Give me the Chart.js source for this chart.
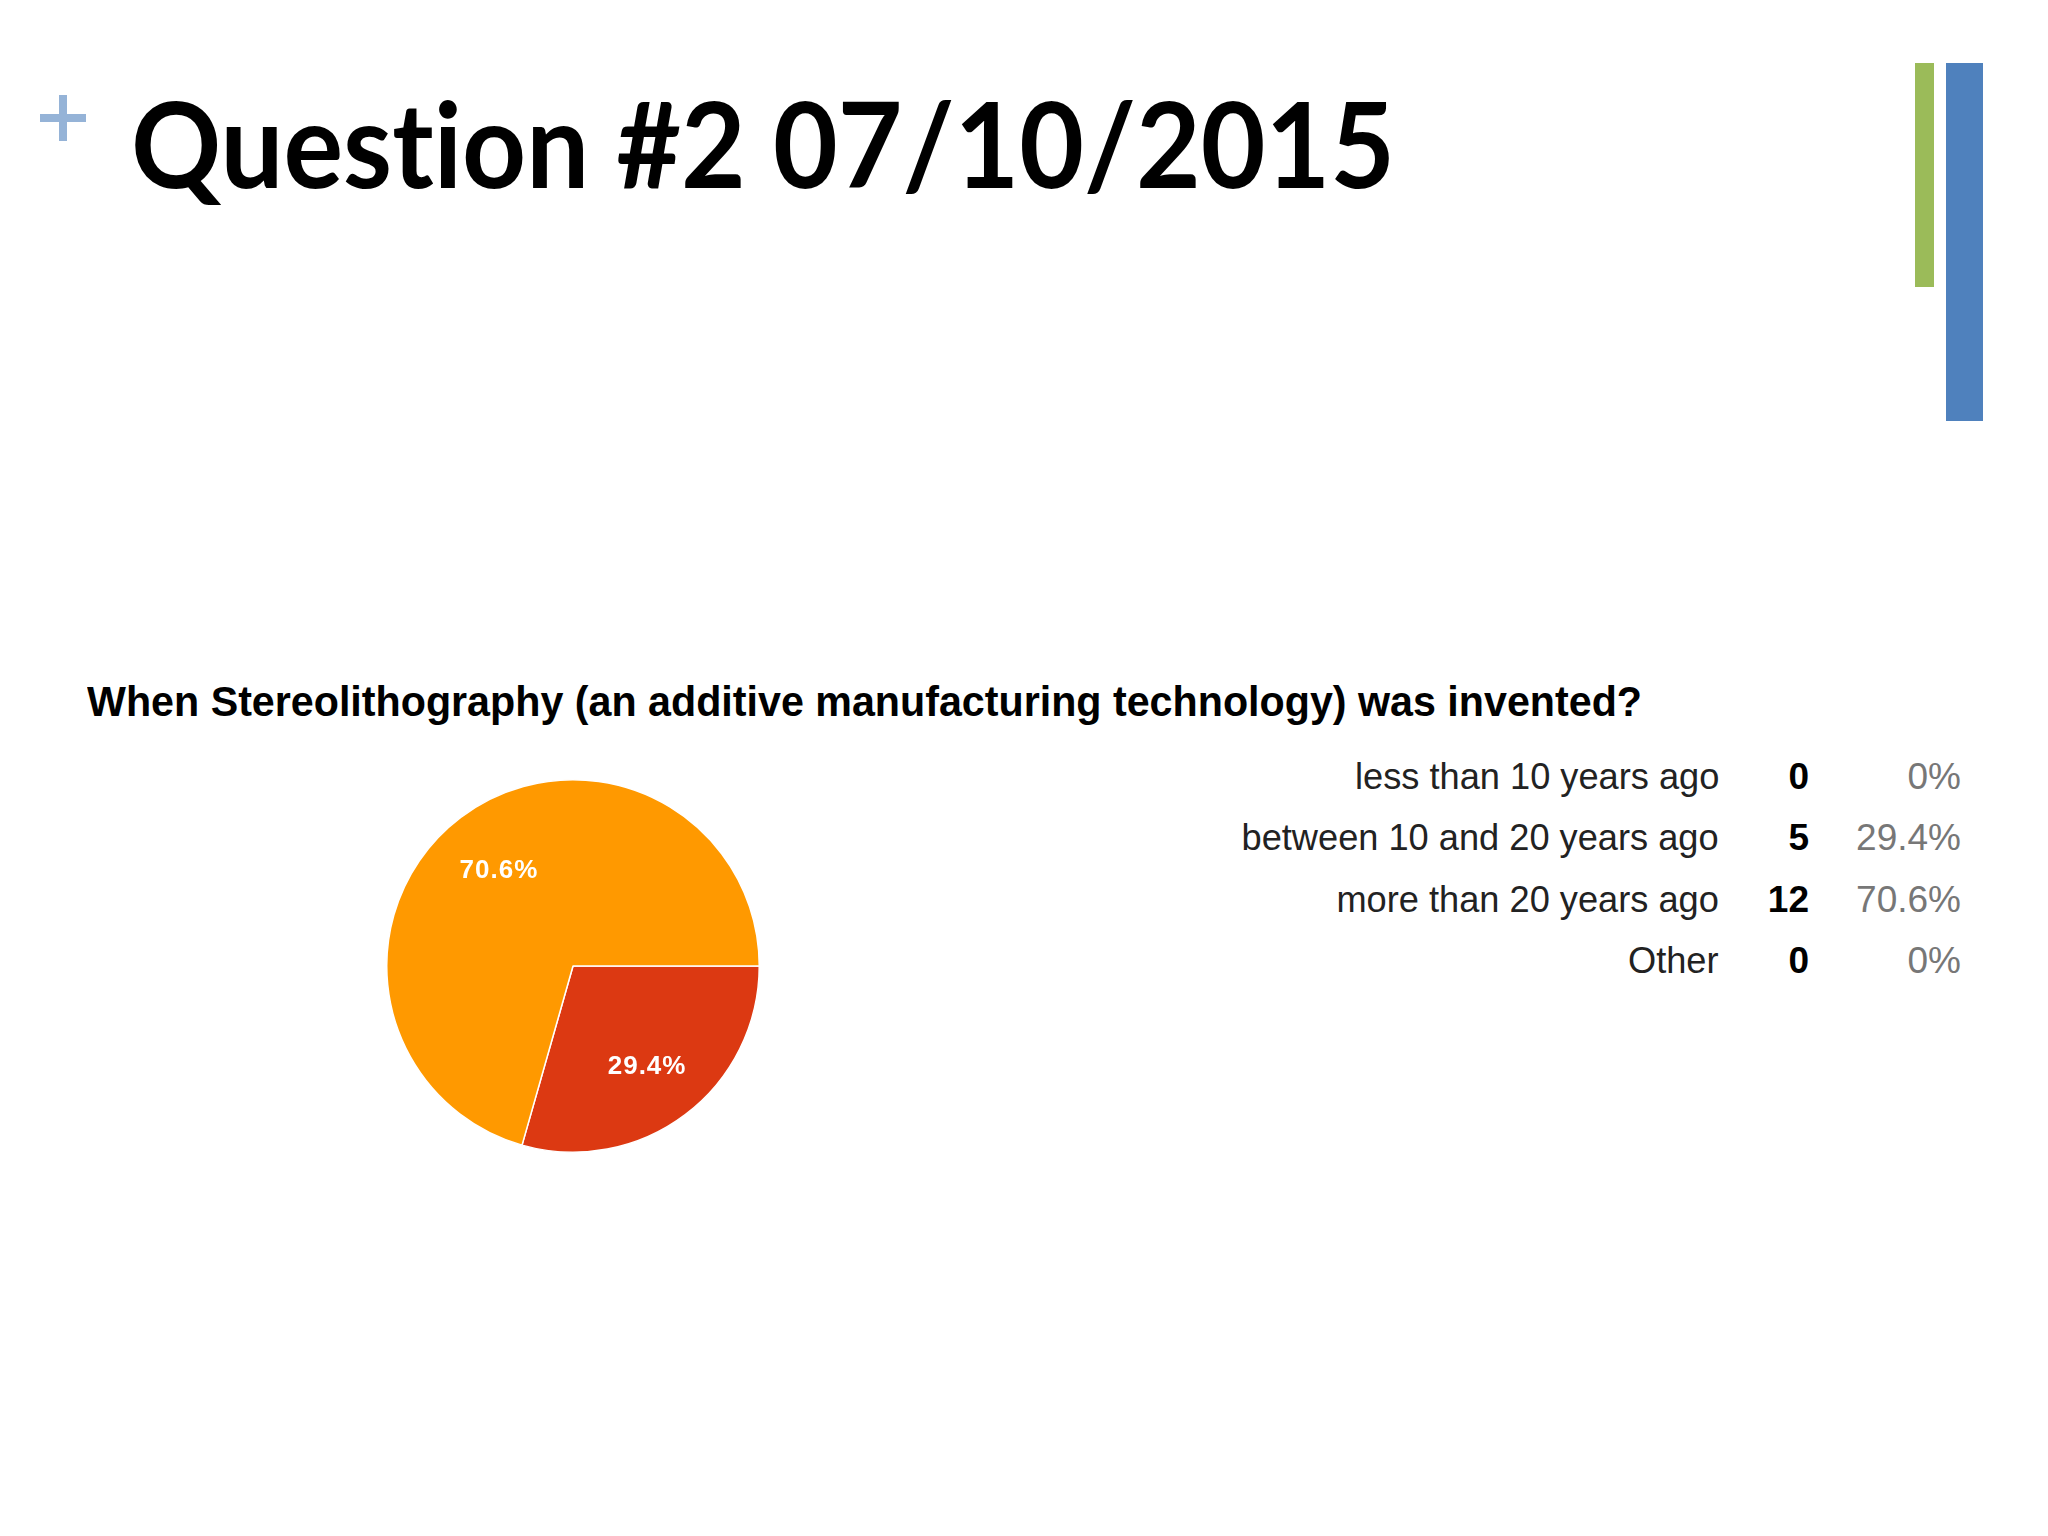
<!DOCTYPE html>
<html>
<head>
<meta charset="utf-8">
<script src="https://cdn.jsdelivr.net/npm/chart.js@4"></script>
<style>
  html, body { margin: 0; padding: 0; background: #fff; }
  body { width: 2048px; height: 1536px; position: relative; overflow: hidden; }
  .abs { position: absolute; white-space: nowrap; }
  #title { left: 131px; top: 84px; font: bold 118px Lato, sans-serif; line-height: 1; color: #000; transform-origin: left top; font-variant-ligatures: none; }
  #sub { left: 87px; top: 681px; font: bold 42px "Liberation Sans", Arial, sans-serif; line-height: 1; color: #000; transform-origin: left top; }
  .lbl { font: 37px "Liberation Sans", Arial, sans-serif; line-height: 1; color: #222; transform-origin: right top; }
  .cnt { font: bold 37px "Liberation Sans", Arial, sans-serif; line-height: 1; color: #000; }
  .pct { font: 37px "Liberation Sans", Arial, sans-serif; line-height: 1; color: #777; }
  #pie { position: absolute; left: 384px; top: 777px; }
</style>
</head>
<body>
<div class="abs" style="left:40px;top:114px;width:46px;height:8px;background:#95B3D7"></div>
<div class="abs" style="left:59px;top:95px;width:8px;height:46px;background:#95B3D7"></div>
<div class="abs" style="left:1915px;top:63px;width:19px;height:224px;background:#9BBB59"></div>
<div class="abs" style="left:1946px;top:63px;width:37px;height:358px;background:#4F81BD"></div>

<div id="title" class="abs">Question #2 07/10/2015</div>
<div id="sub" class="abs">When Stereolithography (an additive manufacturing technology) was invented?</div>
<div id="table"></div>
<canvas id="pie" width="378" height="378"></canvas>

<script>
const categories = ['less than 10 years ago', 'between 10 and 20 years ago', 'more than 20 years ago', 'Other'];
const counts = [0, 5, 12, 0];
const percentLabels = ['0%', '29.4%', '70.6%', '0%'];
const sliceColors = ['#3366CC', '#DC3912', '#FF9900', '#109618'];

// squeeze a line of text to the width it has in the picture
function fitWidth(el, target) {
    const w = el.getBoundingClientRect().width;
    el.style.transform = 'scaleX(' + (target / w) + ')';
}
fitWidth(document.getElementById('title'), 1264);
fitWidth(document.getElementById('sub'), 1555);

// the answer table on the right
const table = document.getElementById('table');
const rowCenters = [776, 837, 899, 960];
const labelEls = [];
categories.forEach((cat, i) => {
    const top = rowCenters[i] - 18;
    const l = document.createElement('div');
    l.className = 'abs lbl';
    l.textContent = cat;
    l.style.right = (2048 - 1719) + 'px';
    l.style.top = top + 'px';
    table.appendChild(l);
    labelEls.push(l);

    const c = document.createElement('div');
    c.className = 'abs cnt';
    c.textContent = counts[i];
    c.style.right = (2048 - 1809) + 'px';
    c.style.top = top + 'px';
    table.appendChild(c);

    const p = document.createElement('div');
    p.className = 'abs pct';
    p.textContent = percentLabels[i];
    p.style.right = (2048 - 1961) + 'px';
    p.style.top = top + 'px';
    table.appendChild(p);
});
const sx = 477 / labelEls[1].getBoundingClientRect().width;
labelEls.forEach(el => el.style.transform = 'scaleX(' + sx + ')');

// percentage text inside the slices
const sliceLabels = {
    id: 'sliceLabels',
    afterDatasetsDraw(chart) {
        const ctx = chart.ctx;
        const data = chart.data.datasets[0].data;
        const total = data.reduce((a, b) => a + b, 0);
        ctx.save();
        ctx.fillStyle = '#fff';
        ctx.font = 'bold 26px "Liberation Sans", Arial, sans-serif';
        ctx.letterSpacing = '1px';
        ctx.textAlign = 'center';
        ctx.textBaseline = 'middle';
        chart.getDatasetMeta(0).data.forEach((arc, i) => {
            if (!data[i]) return;
            const mid = (arc.startAngle + arc.endAngle) / 2;
            const r = arc.outerRadius * 0.66;
            ctx.fillText((data[i] / total * 100).toFixed(1) + '%', arc.x + Math.cos(mid) * r, arc.y + Math.sin(mid) * r + 3);
        });
        ctx.restore();
    }
};

new Chart(document.getElementById('pie'), {
    type: 'pie',
    data: {
        labels: categories,
        datasets: [{
            data: counts,
            backgroundColor: sliceColors,
            borderColor: '#fff',
            borderWidth: 1.5
        }]
    },
    options: {
        responsive: false,
        animation: false,
        rotation: 90,
        layout: { padding: 2 },
        plugins: {
            legend: { display: false },
            tooltip: { enabled: false }
        }
    },
    plugins: [sliceLabels]
});
</script>
</body>
</html>
